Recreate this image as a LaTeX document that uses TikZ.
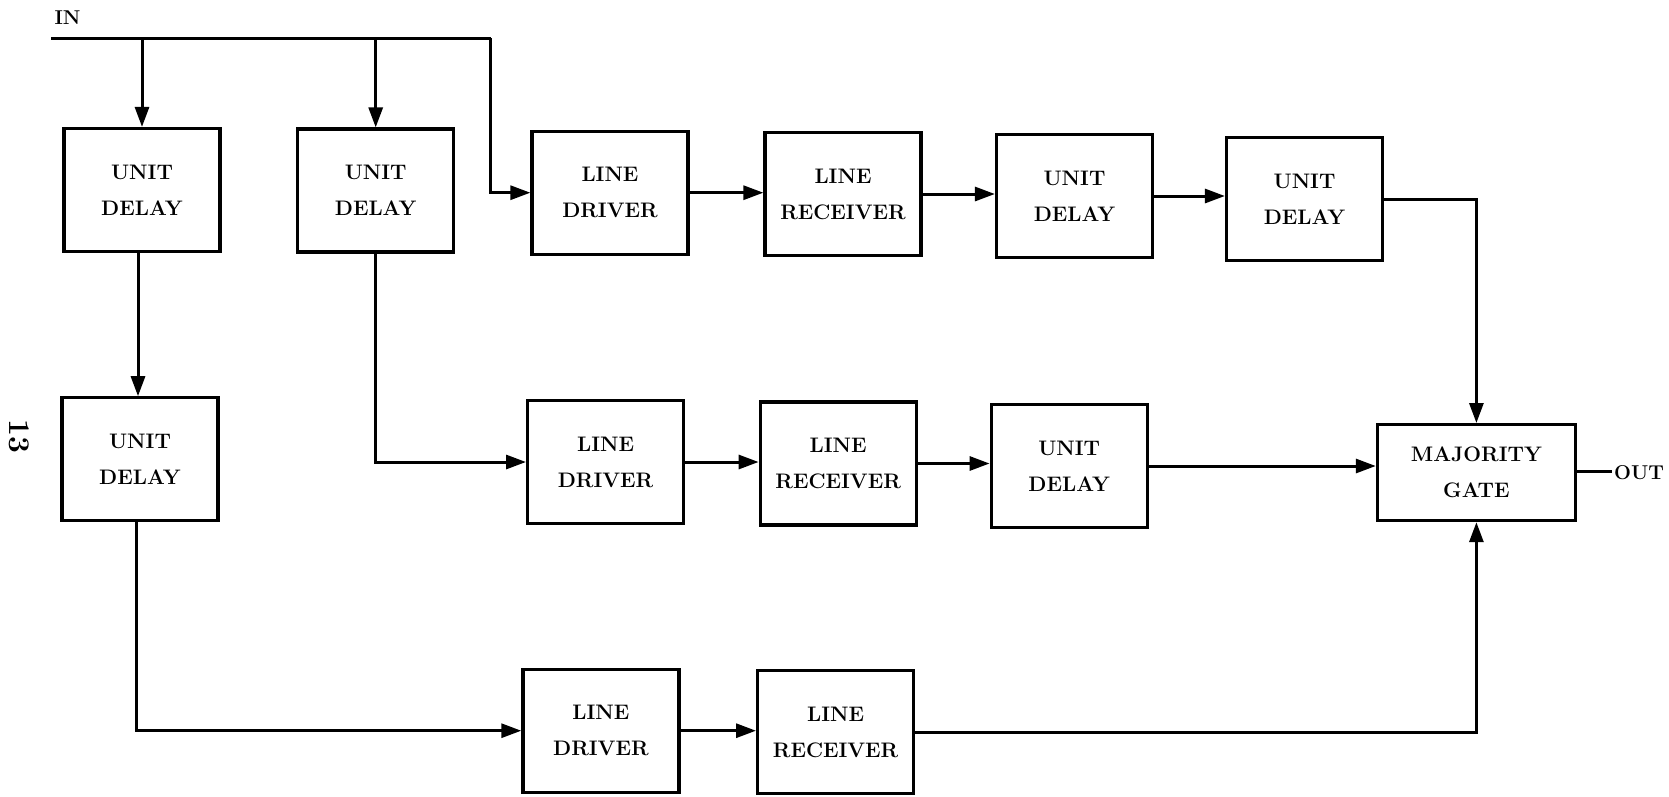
\documentclass[tikz,border=0pt]{standalone}
\usetikzlibrary{arrows.meta}
\begin{document}
\begin{tikzpicture}[x=1pt,y=-1pt,
  blk/.style={draw,line width=3.2pt,minimum width=156pt,minimum height=123pt,align=center,inner sep=0pt,
    font=\fontsize{21}{36}\selectfont\bfseries},
  wire/.style={line width=3pt},
  arr/.style={wire,-{Triangle[length=20pt,width=14pt]}},
  lbl/.style={font=\fontsize{20}{22}\selectfont\bfseries,inner sep=0pt}]
\useasboundingbox (0,0) rectangle (1669,796);
% boxes
\node[blk] (ud1) at (142,190) {UNIT\\DELAY};
\node[blk] (ud2) at (375.7,190.5) {UNIT\\DELAY};
\node[blk] (ld1) at (610,192.7) {LINE\\DRIVER};
\node[blk] (lr1) at (843,194) {LINE\\RECEIVER};
\node[blk] (ud3) at (1074.5,196) {UNIT\\DELAY};
\node[blk] (ud4) at (1304.5,199) {UNIT\\DELAY};
\node[blk] (ud5) at (140,459.3) {UNIT\\DELAY};
\node[blk] (ld2) at (605.6,462) {LINE\\DRIVER};
\node[blk] (lr2) at (838.2,463.5) {LINE\\RECEIVER};
\node[blk] (ud6) at (1069.2,466) {UNIT\\DELAY};
\node[blk,minimum width=198pt,minimum height=96pt] (mg) at (1476.4,472.6) {MAJORITY\\GATE};
\node[blk] (ld3) at (600.9,730.7) {LINE\\DRIVER};
\node[blk] (lr3) at (835.6,732) {LINE\\RECEIVER};
% labels
\node[lbl] (in) at (67.5,18) {IN};
\node[lbl,anchor=west] (out) at (1614,473) {OUT};
\node[font=\fontsize{30}{32}\selectfont\bfseries,rotate=-90,inner sep=0pt] (pg) at (19,436) {13};
% coordinates
\coordinate (inS) at (51,38.3);
\coordinate (inE) at (490.7,38.3);
\coordinate (outE) at (1612,471);
% input bus
\draw[wire] (inS) -- (inE);
\draw[arr] (inE) |- (ld1.west);
\draw[arr] (ud1.north |- inS) -- (ud1.north);
\draw[arr] (ud2.north |- inS) -- (ud2.north);
% left columns
\draw[arr] ([xshift=-4pt]ud1.south) -- ([xshift=-4pt]ud1.south |- ud5.north);
\draw[arr] (ud2.south) |- (ld2.west);
\draw[arr] ([xshift=-4pt]ud5.south) |- (ld3.west);
% rows
\draw[arr] (ld1.east) -- (ld1.east -| lr1.west);
\draw[arr] (lr1.east) -- (lr1.east -| ud3.west);
\draw[arr] (ud3.east) -- (ud3.east -| ud4.west);
\draw[arr] (ld2.east) -- (ld2.east -| lr2.west);
\draw[arr] (lr2.east) -- (lr2.east -| ud6.west);
\draw[arr] (ld3.east) -- (ld3.east -| lr3.west);
% to majority gate
\draw[arr] (ud4.east) -| (mg.north);
\draw[arr] (ud6.east) -- (ud6.east -| mg.west);
\draw[arr] (lr3.east) -| (mg.south);
\draw[wire] (mg.east |- outE) -- (outE);
\end{tikzpicture}
\end{document}
